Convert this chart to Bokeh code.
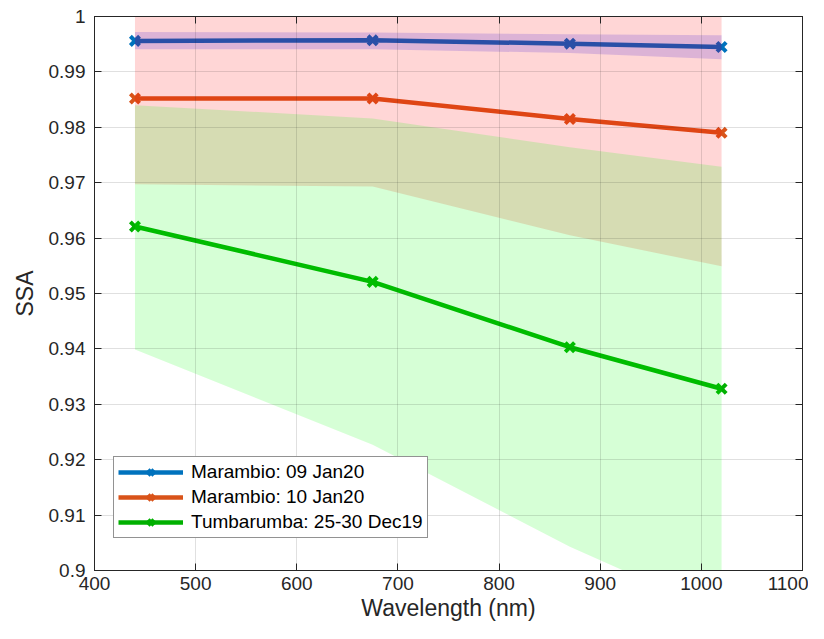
from bokeh.plotting import figure
from bokeh.models import Range1d, LinearAxis, FixedTicker, CustomJSTickFormatter
from bokeh.embed import file_html
from bokeh.resources import INLINE

# ---- data ----
wavelength = [440, 675, 870, 1020]

mar09_ssa = [0.9956, 0.9957, 0.9951, 0.9945]
mar09_lo = [0.9941, 0.9941, 0.9934, 0.9923]
mar09_hi = [0.9972, 0.9971, 0.9968, 0.9966]

mar10_ssa = [0.9852, 0.9852, 0.9815, 0.9790]
mar10_lo = [0.9697, 0.9693, 0.9605, 0.9549]
mar10_hi = [1.0, 1.0, 1.0, 1.0]

tum_ssa = [0.9621, 0.9521, 0.9403, 0.9328]
tum_lo = [0.9399, 0.9227, 0.9043, 0.8921]
tum_hi = [0.9840, 0.9816, 0.9764, 0.9729]

labels = ["Marambio: 09 Jan20", "Marambio: 10 Jan20", "Tumbarumba: 25-30 Dec19"]
line_colors = ["#0072BD", "#D95319", "#00B000"]
band_colors = ["#0000FF", "#FF0000", "#00FF00"]

x_ticks = [400, 500, 600, 700, 800, 900, 1000, 1100]
y_ticks = [0.90, 0.91, 0.92, 0.93, 0.94, 0.95, 0.96, 0.97, 0.98, 0.99, 1.00]

FONT = "Liberation Sans"
DARK = "#262626"

p = figure(width=808, height=623, output_backend="svg", toolbar_location=None,
           x_range=Range1d(400, 1100), y_range=Range1d(0.9, 1.0),
           min_border_left=94, min_border_right=6, min_border_top=16, min_border_bottom=10)

series = [(mar09_ssa, mar09_lo, mar09_hi), (mar10_ssa, mar10_lo, mar10_hi), (tum_ssa, tum_lo, tum_hi)]

# lines + markers (drawn beneath the translucent bands)
for (ssa, lo, hi), lab, col in zip(series, labels, line_colors):
    p.line(wavelength, ssa, line_color=col, line_width=4.5, legend_label=lab)
    p.scatter(wavelength, ssa, marker="x", size=13, line_color=col, line_width=4, legend_label=lab)

for (ssa, lo, hi), bc in zip(series, band_colors):
    p.varea(x=wavelength, y1=lo, y2=hi, fill_color=bc, fill_alpha=0.16)

# axes styling
for ax in [p.xaxis[0], p.yaxis[0]]:
    ax.axis_line_color = DARK
    ax.major_tick_line_color = DARK
    ax.major_tick_in = 7
    ax.major_tick_out = 0
    ax.minor_tick_line_color = None
    ax.major_label_text_font = FONT
    ax.major_label_text_font_size = "19px"
    ax.major_label_text_color = DARK
    ax.axis_label_text_font = FONT
    ax.axis_label_text_font_size = "23px"
    ax.axis_label_text_font_style = "normal"
    ax.axis_label_text_color = DARK

p.xaxis[0].ticker = FixedTicker(ticks=x_ticks)
p.yaxis[0].ticker = FixedTicker(ticks=y_ticks)
p.yaxis[0].formatter = CustomJSTickFormatter(code="return (Math.round(tick*100)/100).toString();")
p.xaxis[0].axis_label = "Wavelength (nm)"
p.yaxis[0].axis_label = "SSA"
p.xaxis[0].major_label_standoff = 6
p.yaxis[0].major_label_standoff = 9
p.xaxis[0].axis_label_standoff = 2
p.yaxis[0].axis_label_standoff = 8

# box ticks on top/right (no labels)
blank = CustomJSTickFormatter(code="return '';")
top = LinearAxis(ticker=FixedTicker(ticks=x_ticks), formatter=blank,
                 major_label_text_color=None, major_label_text_font_size="1px",
                 major_tick_in=7, major_tick_out=0, minor_tick_line_color=None,
                 major_tick_line_color=DARK, axis_line_color=DARK, major_label_standoff=0)
right = LinearAxis(ticker=FixedTicker(ticks=y_ticks), formatter=CustomJSTickFormatter(code="return '';"),
                   major_label_text_color=None, major_label_text_font_size="1px",
                   major_tick_in=7, major_tick_out=0, minor_tick_line_color=None,
                   major_tick_line_color=DARK, axis_line_color=DARK, major_label_standoff=0)
p.add_layout(top, "above")
p.add_layout(right, "right")

p.xgrid.ticker = FixedTicker(ticks=x_ticks)
p.ygrid.ticker = FixedTicker(ticks=y_ticks)
for g in [p.xgrid[0], p.ygrid[0]]:
    g.grid_line_color = DARK
    g.grid_line_alpha = 0.14
    g.level = "overlay"

p.outline_line_color = DARK
p.background_fill_color = "white"
p.border_fill_color = "white"

lg = p.legend[0]
lg.location = (19, 32)
lg.label_text_font = FONT
lg.label_text_font_size = "19px"
lg.label_text_color = "black"
lg.glyph_width = 65
lg.glyph_height = 20
lg.label_height = 20
lg.spacing = 3
lg.padding = 4
lg.margin = 0
lg.border_line_color = DARK
lg.border_line_width = 1
lg.background_fill_alpha = 1.0
lg.label_standoff = 8

open("out.html", "w").write(file_html(p, INLINE))
